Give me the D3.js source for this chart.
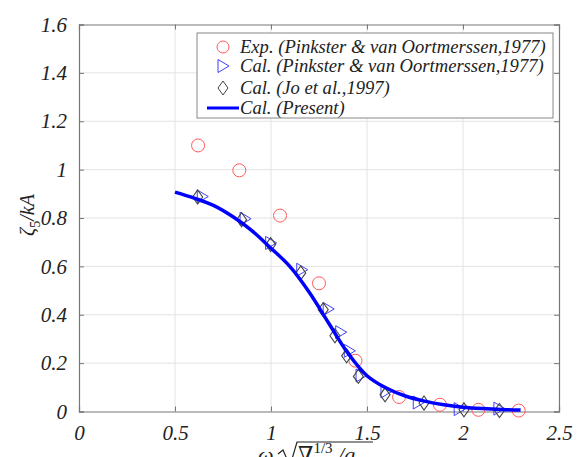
<!DOCTYPE html>
<html>
<head>
<meta charset="utf-8">
<script src="https://cdn.jsdelivr.net/npm/d3@7"></script>
<style>
  body { margin: 0; background: #fff; }
  svg text { font-family: "Times New Roman", "Liberation Serif", Tinos, "DejaVu Serif", serif; fill: #222; }
</style>
</head>
<body>
<svg id="chart" width="582" height="457"></svg>
<script>
// data
const expX = [0.62, 0.835, 1.047, 1.25, 1.44, 1.667, 1.88, 2.08, 2.29];
const expY = [1.10, 0.997, 0.81, 0.53, 0.21, 0.06, 0.028, 0.007, 0.004];

const pinkX = [0.642, 0.865, 0.998, 1.16, 1.298, 1.363, 1.408, 1.469, 1.599, 1.767, 1.98, 2.187];
const pinkY = [0.889, 0.797, 0.697, 0.586, 0.424, 0.328, 0.251, 0.149, 0.083, 0.037, 0.01, 0.012];

const joX = [0.618, 0.847, 0.998, 1.155, 1.272, 1.333, 1.394, 1.455, 1.594, 1.797, 2.005, 2.19];
const joY = [0.887, 0.793, 0.69, 0.573, 0.421, 0.313, 0.23, 0.145, 0.069, 0.035, 0.007, 0.004];

const presX = [0.5, 0.6, 0.7, 0.8, 0.9, 1.0, 1.1, 1.2, 1.3, 1.4, 1.5, 1.6, 1.7, 1.8, 1.9, 2.0, 2.1, 2.2, 2.3];
const presY = [0.907, 0.882, 0.852, 0.806, 0.748, 0.675, 0.598, 0.492, 0.366, 0.242, 0.148, 0.097, 0.064, 0.043, 0.028, 0.018, 0.012, 0.008, 0.006];

const xTicks = [0, 0.5, 1, 1.5, 2, 2.5];
const yTicks = [0, 0.2, 0.4, 0.6, 0.8, 1, 1.2, 1.4, 1.6];

const legendLabels = [
  "Exp. (Pinkster & van Oortmerssen,1977)",
  "Cal. (Pinkster & van Oortmerssen,1977)",
  "Cal. (Jo et al.,1997)",
  "Cal. (Present)"
];

const svg = d3.select("#chart");
const margin = {top: 24.5, left: 79, right: 23, bottom: 45.5};
const w = 582 - margin.left - margin.right;
const h = 457 - margin.top - margin.bottom;
const g = svg.append("g").attr("transform", `translate(${margin.left},${margin.top})`);

const x = d3.scaleLinear().domain([0, 2.5]).range([0, w]);
const y = d3.scaleLinear().domain([0, 1.6]).range([h, 0]);

// grid
g.selectAll(".gx").data(xTicks.slice(1, -1)).join("line")
  .attr("x1", d => x(d)).attr("x2", d => x(d)).attr("y1", 0).attr("y2", h)
  .attr("stroke", "#e3e3e3").attr("stroke-width", 1);
g.selectAll(".gy").data(yTicks.slice(1, -1)).join("line")
  .attr("x1", 0).attr("x2", w).attr("y1", d => y(d)).attr("y2", d => y(d))
  .attr("stroke", "#e3e3e3").attr("stroke-width", 1);

// axes (ticks inside, box on)
const axCol = "#777";
const axB = g.append("g").attr("transform", `translate(0,${h})`)
  .call(d3.axisBottom(x).tickValues(xTicks).tickSize(-5).tickPadding(14).tickFormat(d3.format("")));
const axL = g.append("g")
  .call(d3.axisLeft(y).tickValues(yTicks).tickSize(-5).tickPadding(12).tickFormat(d3.format("")));
const axT = g.append("g").call(d3.axisTop(x).tickValues(xTicks).tickSize(-5).tickFormat(""));
const axR = g.append("g").attr("transform", `translate(${w},0)`)
  .call(d3.axisRight(y).tickValues(yTicks).tickSize(-5).tickFormat(""));
[axB, axL, axT, axR].forEach(a => {
  a.attr("font-family", null);
  a.selectAll("path").attr("stroke", axCol).attr("stroke-width", 1.2);
  a.selectAll("line").attr("stroke", axCol);
  a.selectAll("text").attr("font-size", 21).attr("font-style", "italic").attr("fill", "#222");
});

// markers
g.selectAll(".exp").data(expX).join("circle")
  .attr("cx", d => x(d)).attr("cy", (d, i) => y(expY[i])).attr("r", 6.5)
  .attr("fill", "none").attr("stroke", "#ff5a5a").attr("stroke-width", 1);

const tri = d3.symbol().type({draw(c, s) { c.moveTo(-5, -6.5); c.lineTo(6, 0); c.lineTo(-5, 6.5); c.closePath(); }});
const dia = d3.symbol().type({draw(c, s) { c.moveTo(0, -7); c.lineTo(5, 0); c.lineTo(0, 7); c.lineTo(-5, 0); c.closePath(); }});

g.selectAll(".pink").data(pinkX).join("path")
  .attr("transform", (d, i) => `translate(${x(d)},${y(pinkY[i])})`)
  .attr("d", tri()).attr("fill", "none").attr("stroke", "#4040ff").attr("stroke-width", 1);

g.selectAll(".jo").data(joX).join("path")
  .attr("transform", (d, i) => `translate(${x(d)},${y(joY[i])})`)
  .attr("d", dia()).attr("fill", "none").attr("stroke", "#444").attr("stroke-width", 1.1);

const line = d3.line().x(d => x(d[0])).y(d => y(d[1])).curve(d3.curveCatmullRom);
g.append("path").datum(presX.map((d, i) => [d, presY[i]]))
  .attr("d", line).attr("fill", "none").attr("stroke", "#0000ff").attr("stroke-width", 3.5);

// legend
const lg = svg.append("g").attr("transform", "translate(197,33)");
lg.append("rect").attr("width", 356).attr("height", 85)
  .attr("fill", "#fff").attr("stroke", "#888").attr("stroke-width", 1);
const rowY = [14, 33, 55, 75];
lg.append("circle").attr("cx", 26).attr("cy", rowY[0]).attr("r", 6)
  .attr("fill", "none").attr("stroke", "#ff5a5a");
lg.append("path").attr("transform", `translate(26,${rowY[1]})`).attr("d", tri())
  .attr("fill", "none").attr("stroke", "#4040ff");
lg.append("path").attr("transform", `translate(26,${rowY[2]})`).attr("d", dia())
  .attr("fill", "none").attr("stroke", "#444");
lg.append("line").attr("x1", 10).attr("x2", 42).attr("y1", rowY[3]).attr("y2", rowY[3])
  .attr("stroke", "#0000ff").attr("stroke-width", 3);
lg.selectAll(".lt").data(legendLabels).join("text")
  .attr("x", 43).attr("y", (d, i) => rowY[i] + 6)
  .attr("font-size", 18.6).attr("font-style", "italic").text(d => d);

// y label: zeta_5 / kA
const yl = svg.append("text").attr("transform", "translate(34,215) rotate(-90)")
  .attr("text-anchor", "middle").attr("font-size", 20).attr("font-style", "italic");
yl.append("tspan").text("ζ");
yl.append("tspan").attr("font-size", 14).attr("dy", 6).attr("font-style", "normal").text("5");
yl.append("tspan").attr("dy", -6).text("/kA");

// x label: omega sqrt(nabla^(1/3)/g), cut at bottom as in the figure
const xl = svg.append("text").attr("x", 258).attr("y", 462).attr("font-size", 22);
xl.append("tspan").attr("font-style", "italic").text("ω");
svg.append("path").attr("d", "M278,454 L283,450 L290,466 L297,442 L373,442")
  .attr("fill", "none").attr("stroke", "#222").attr("stroke-width", 1.2);
const xl2 = svg.append("text").attr("x", 298).attr("y", 462).attr("font-size", 22);
xl2.append("tspan").text("∇");
xl2.append("tspan").attr("font-size", 15).attr("dy", -9).text("1/3");
xl2.append("tspan").attr("dy", 9).attr("font-style", "italic").text(" /g");
</script>
</body>
</html>
